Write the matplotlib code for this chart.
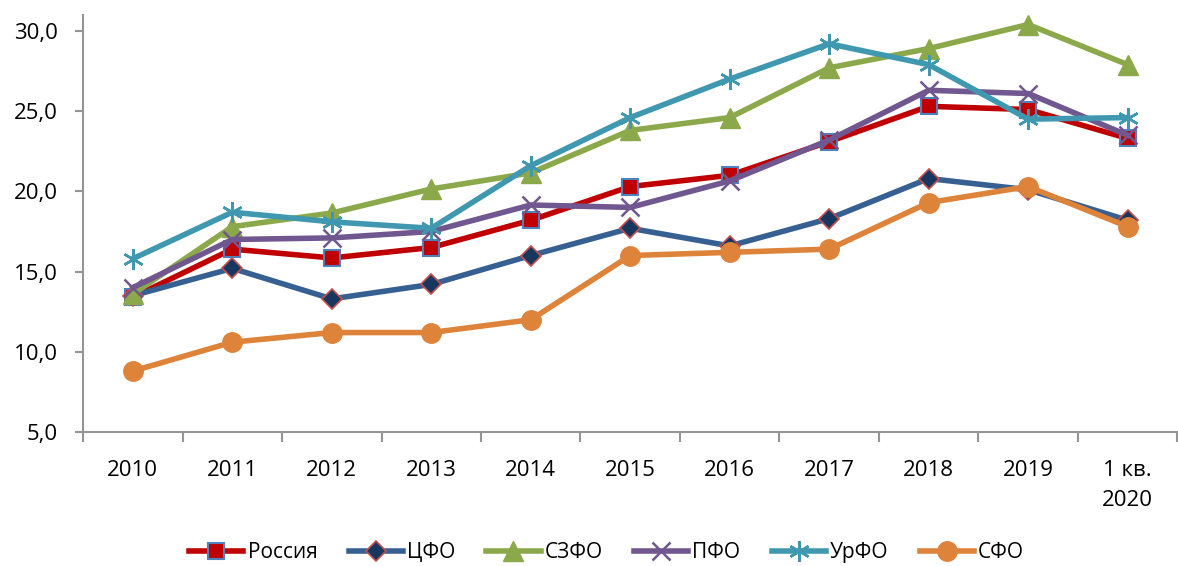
import matplotlib.pyplot as plt
import numpy as np

plt.rcParams['font.family'] = ['Open Sans', 'DejaVu Sans']

categories = ['2010', '2011', '2012', '2013', '2014', '2015', '2016', '2017', '2018', '2019', '1 кв.\n2020']

russia = [13.4, 16.4, 15.85, 16.5, 18.2, 20.3, 21.0, 23.1, 25.3, 25.1, 23.3]
cfo = [13.5, 15.2, 13.3, 14.2, 16.0, 17.7, 16.6, 18.3, 20.8, 20.1, 18.2]
szfo = [13.6, 17.8, 18.65, 20.15, 21.15, 23.8, 24.6, 27.7, 28.9, 30.4, 27.9]
pfo = [14.0, 17.0, 17.1, 17.5, 19.15, 19.0, 20.65, 23.2, 26.3, 26.1, 23.5]
urfo = [15.8, 18.7, 18.1, 17.7, 21.6, 24.6, 27.0, 29.2, 27.9, 24.5, 24.6]
sfo = [8.8, 10.6, 11.2, 11.2, 12.0, 16.0, 16.2, 16.4, 19.3, 20.3, 17.8]

x = np.arange(len(categories))

fig = plt.figure(figsize=(11.78, 5.66), dpi=100)
ax = fig.add_axes([0.0705, 0.2367, 0.929, 0.737])

lw = 4
ax.plot(x, russia, color='#C00000', lw=lw, marker='s', ms=12,
        mfc='#C00000', mec='#4F81BD', mew=1.5, label='Россия')
ax.plot(x, cfo, color='#376092', lw=lw, marker='D', ms=10,
        mfc='#17375E', mec='#C0504D', mew=1.2, label='ЦФО')
ax.plot(x, szfo, color='#8BA84A', lw=lw, marker='^', ms=14,
        mfc='#8BA84A', mec='#8BA84A', label='СЗФО')
ax.plot(x, pfo, color='#71578F', lw=lw, marker='x', ms=13,
        mec='#71578F', mew=1.8, label='ПФО')
ax.plot(x, urfo, color='#3F98B0', lw=lw, marker=(6, 2, 0), ms=15,
        mec='#3F98B0', mew=1.8, label='УрФО')
ax.plot(x, sfo, color='#DE833A', lw=lw, marker='o', ms=14,
        mfc='#DE833A', mec='#DE833A', label='СФО')

ax.set_xlim(-0.5, len(categories) - 0.5)
ax.set_ylim(5, 31)
ax.set_yticks([5, 10, 15, 20, 25, 30])
ax.set_yticklabels(['5,0', '10,0', '15,0', '20,0', '25,0', '30,0'])
ax.set_xticks(x)
ax.set_xticklabels(categories, linespacing=1.6, va='top')
ax.set_xticks(np.arange(-0.5, len(categories)), minor=True)

for s in ['top', 'right']:
    ax.spines[s].set_visible(False)
for s in ['left', 'bottom']:
    ax.spines[s].set_color('#959595')
    ax.spines[s].set_linewidth(1.5)

ax.tick_params(axis='x', which='major', length=0, pad=20, labelsize=16)
ax.tick_params(axis='x', which='minor', length=7, width=1.5, color='#959595')
ax.tick_params(axis='y', length=6, width=1.5, color='#959595', labelsize=16, pad=12)

fig.legend(*ax.get_legend_handles_labels(), loc='center', bbox_to_anchor=(0.515, 0.024),
           ncol=6, frameon=False, fontsize=15, handlelength=2.6,
           columnspacing=1.5, handletextpad=0.2, borderaxespad=0)

fig.savefig('out.png', dpi=100)
